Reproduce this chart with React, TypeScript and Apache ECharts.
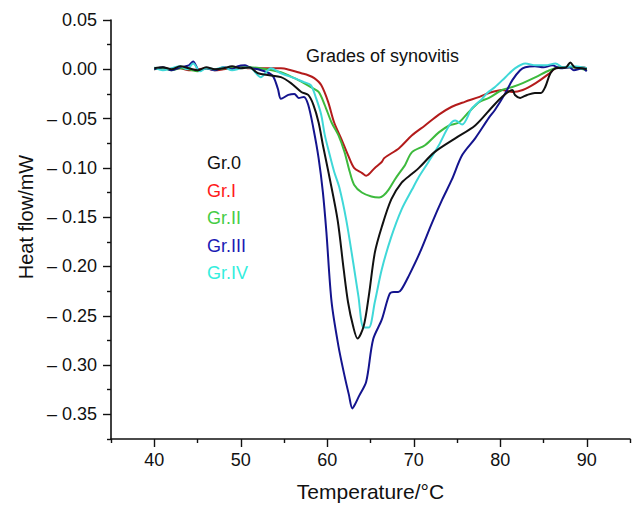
import React, { useEffect, useRef } from "react";
import * as echarts from "echarts";

const seriesNames = ["Gr.0", "Gr.I", "Gr.II", "Gr.III", "Gr.IV"];

const gr0: number[][] = [
  [40, 0.001], [41, 0.002], [42, 0], [43, 0.003], [44, 0.001], [45, -0.001], [46, 0.002], [47, 0],
  [48, 0.001], [49, 0.003], [50, 0.001], [51, 0.002], [52, -0.004], [53.3, -0.006], [54.65, -0.008],
  [55.8, -0.014], [57, -0.023], [57.8, -0.026], [58.4, -0.036], [59, -0.054], [59.5, -0.077],
  [60.2, -0.107], [61.2, -0.153], [61.9, -0.203], [62.4, -0.236], [63, -0.261], [63.5, -0.273],
  [64.2, -0.261], [64.8, -0.23], [65.5, -0.186], [66.3, -0.16], [67.4, -0.132], [68.6, -0.115],
  [69.8, -0.106], [70.6, -0.1], [72.4, -0.084], [74.8, -0.07], [77.1, -0.057], [79.1, -0.038],
  [80.2, -0.028], [81.4, -0.021], [81.7, -0.026], [82.3, -0.029], [83.1, -0.026], [84, -0.024],
  [84.7, -0.024], [85.2, -0.018], [85.8, -0.004], [86.4, 0.001], [87.6, 0.002], [88.1, 0.007],
  [88.6, 0.002], [89.5, 0.001], [90, 0],
];

const gr1: number[][] = [
  [40, 0], [41, 0.001], [42, 0], [43, 0.001], [44, -0.001], [45, 0], [46, 0.001], [47, -0.001],
  [48, 0], [49, 0.001], [50, 0.002], [51, 0.001], [52, 0.001], [53.5, 0.001], [54.65, 0.001],
  [55.8, -0.001], [57, -0.004], [57.8, -0.006], [58.5, -0.009], [59.3, -0.016], [60.1, -0.033],
  [60.8, -0.054], [61.6, -0.07], [62.4, -0.087], [63.1, -0.1], [64, -0.105], [64.5, -0.108],
  [65.5, -0.1], [66.3, -0.094], [66.6, -0.09], [68.3, -0.08], [69.8, -0.067], [71.3, -0.057],
  [72.9, -0.046], [74.4, -0.038], [75.9, -0.033], [77.6, -0.028], [78.7, -0.024], [80.2, -0.021],
  [81.4, -0.023], [82.6, -0.021], [84.1, -0.014], [85.7, -0.004], [86.4, 0.001], [88, 0.002],
  [89.5, 0.002], [90, 0.001],
];

const gr2: number[][] = [
  [40, 0], [41, 0.001], [42, -0.001], [43, 0.001], [44, 0], [45, -0.002], [46, 0.001], [47, 0],
  [48, 0.001], [49, 0.002], [50, 0.002], [51, 0.002], [52.3, 0.001], [54.65, -0.003], [56.2, -0.009],
  [57.3, -0.014], [58.1, -0.018], [59, -0.023], [59.7, -0.036], [60.5, -0.054], [61.3, -0.067],
  [62, -0.084], [62.6, -0.104], [63.1, -0.117], [64, -0.125], [65.1, -0.129], [66, -0.13],
  [66.5, -0.128], [67.1, -0.122], [67.8, -0.112], [68.6, -0.102], [69, -0.097], [69.8, -0.084],
  [71.3, -0.077], [72.9, -0.064], [74.1, -0.057], [75.2, -0.054], [76.4, -0.043], [77.6, -0.033],
  [78.7, -0.029], [80.2, -0.021], [81.4, -0.018], [82.6, -0.014], [84.1, -0.008], [85.7, -0.001],
  [86.9, 0.002], [88.4, 0.002], [90, -0.001],
];

const gr3: number[][] = [
  [40, 0], [41, 0.002], [42, -0.001], [43, 0.002], [44, 0.004], [44.5, 0.008], [45.2, -0.001],
  [46, 0.001], [47, -0.001], [48, 0.002], [49, 0], [49.6, 0.003], [50.5, 0.004], [51.2, 0.001],
  [52, 0], [53.3, -0.004], [53.8, -0.008], [54.3, -0.02], [54.65, -0.03], [55.5, -0.026],
  [56.2, -0.025], [56.7, -0.029], [57.3, -0.028], [57.8, -0.036], [58.4, -0.06], [59, -0.09],
  [59.5, -0.125], [59.9, -0.165], [60.5, -0.236], [61.3, -0.281], [62, -0.311], [62.5, -0.33],
  [62.9, -0.344], [63.2, -0.34], [63.7, -0.331], [64.5, -0.317], [65.3, -0.274], [66.3, -0.254],
  [67.2, -0.228], [67.7, -0.226], [68.2, -0.226], [68.6, -0.223], [69.4, -0.21], [70.7, -0.186],
  [72.1, -0.156], [73.3, -0.132], [74.4, -0.112], [75.6, -0.087], [77.1, -0.07], [78.7, -0.049],
  [79.4, -0.041], [80.6, -0.024], [81.4, -0.011], [82.3, -0.001], [82.9, 0.002], [84, 0.003],
  [85, 0.002], [86, 0.004], [87, 0.001], [88, 0.002], [88.5, -0.001], [89.5, 0.001], [90, -0.002],
];

const gr4: number[][] = [
  [40, 0.002], [41, -0.001], [42, 0.001], [43, 0.003], [43.8, 0], [44.5, 0.006], [45.3, -0.002],
  [46, 0.001], [47, 0], [48, 0.002], [49, -0.001], [50, 0.001], [51, 0.002], [52.3, -0.008],
  [53.5, 0.001], [54.65, -0.004], [56.2, -0.009], [57.3, -0.013], [58.1, -0.016], [58.7, -0.029],
  [59.3, -0.046], [59.7, -0.066], [60.2, -0.084], [60.8, -0.104], [61.4, -0.12], [62.2, -0.153],
  [63, -0.196], [63.6, -0.23], [64.2, -0.262], [64.8, -0.262], [65.5, -0.236], [66.3, -0.203],
  [67.4, -0.17], [68.6, -0.142], [69.8, -0.122], [70.6, -0.109], [71.7, -0.094], [72.9, -0.077],
  [74.1, -0.057], [74.8, -0.052], [75.6, -0.056], [76.7, -0.04], [77.9, -0.03], [78.5, -0.024],
  [79.4, -0.018], [80.6, -0.008], [81.7, 0.001], [82.9, 0.006], [84.1, 0.004], [85.2, 0.004],
  [86.4, 0.006], [87.2, 0.002], [88.4, 0.003], [89.5, 0.002], [90, 0.001],
];

const seriesData = [gr0, gr1, gr2, gr3, gr4];
const lineColors = ["#111111", "#b31b1b", "#3dba3d", "#14148e", "#3fd8d8"];
const legendColors = ["#111111", "#ff1a1a", "#44cc44", "#1a1ab4", "#33eedd"];

const xMajorTicks = [40, 50, 60, 70, 80, 90];
const xMinorTicks = [35, 45, 55, 65, 75, 85, 95];
const yMajorTicks = [0.05, 0, -0.05, -0.1, -0.15, -0.2, -0.25, -0.3, -0.35];
const yMinorTicks = [0.025, -0.025, -0.075, -0.125, -0.175, -0.225, -0.275, -0.325, -0.375];

const FONT = "Liberation Sans, Arial, Helvetica, sans-serif";

function fmtY(v: number): string {
  if (Math.abs(v) < 1e-9) return "0.00";
  if (v > 0) return v.toFixed(2);
  return "\u2013 " + Math.abs(v).toFixed(2);
}

export default function App() {
  const ref = useRef<HTMLDivElement>(null);
  useEffect(() => {
    document.body.style.margin = "0";
    if (!ref.current) return;
    const chart = echarts.init(ref.current, null, { renderer: "svg" });
    const axisLine = { show: true, onZero: false, lineStyle: { color: "#111", width: 1.6 } };
    const tickStyle = { color: "#111", width: 1.4 };
    chart.setOption({
      animation: false,
      backgroundColor: "#ffffff",
      title: {
        text: "Grades of synovitis",
        left: 306,
        top: 47,
        padding: 0,
        textStyle: { fontFamily: FONT, fontSize: 18, fontWeight: "normal", color: "#111" },
      },
      legend: {
        orient: "vertical",
        left: 202,
        top: 154,
        padding: 0,
        icon: "none",
        itemWidth: 0,
        itemHeight: 18,
        itemGap: 9.5,
        selectedMode: false,
        textStyle: { fontFamily: FONT, fontSize: 18, lineHeight: 18 },
        data: seriesNames.map((n, i) => ({ name: n, textStyle: { color: legendColors[i] } })),
      },
      grid: { left: 111, right: 3, top: 20, bottom: 66, containLabel: false },
      xAxis: [
        {
          type: "value",
          min: 35,
          max: 95,
          position: "bottom",
          axisLine,
          splitLine: { show: false },
          axisTick: { show: true, customValues: xMajorTicks, length: 8, lineStyle: tickStyle },
          axisLabel: {
            customValues: xMajorTicks,
            margin: 12,
            fontFamily: FONT,
            fontSize: 18,
            color: "#111",
          },
          name: "Temperature/°C",
          nameLocation: "middle",
          nameGap: 42,
          nameTextStyle: { fontFamily: FONT, fontSize: 21, color: "#111", verticalAlign: "top" },
        },
        {
          type: "value",
          min: 35,
          max: 95,
          position: "bottom",
          axisLine: { show: false, onZero: false },
          splitLine: { show: false },
          axisTick: { show: true, customValues: xMinorTicks, length: 4, lineStyle: tickStyle },
          axisLabel: { show: false },
        },
      ],
      yAxis: [
        {
          type: "value",
          min: -0.375,
          max: 0.05,
          position: "left",
          axisLine,
          splitLine: { show: false },
          axisTick: { show: true, customValues: yMajorTicks, length: 8, lineStyle: tickStyle },
          axisLabel: {
            customValues: yMajorTicks,
            margin: 14,
            fontFamily: FONT,
            fontSize: 18,
            color: "#111",
            formatter: (v: number) => fmtY(v),
          },
        },
        {
          type: "value",
          min: -0.375,
          max: 0.05,
          position: "left",
          axisLine: { show: false, onZero: false },
          splitLine: { show: false },
          axisTick: { show: true, customValues: yMinorTicks, length: 4, lineStyle: tickStyle },
          axisLabel: { show: false },
        },
      ],
      graphic: [
        {
          type: "text",
          x: 26,
          y: 217,
          rotation: Math.PI / 2,
          style: {
            text: "Heat flow/mW",
            fontFamily: FONT,
            fontSize: 20,
            fill: "#111",
            align: "center",
            verticalAlign: "middle",
          },
        },
      ],
      series: seriesNames.map((n, i) => ({
        name: n,
        type: "line",
        data: seriesData[i],
        xAxisIndex: 0,
        yAxisIndex: 0,
        showSymbol: false,
        smooth: 0.3,
        lineStyle: { color: lineColors[i], width: 2 },
        itemStyle: { color: lineColors[i] },
        z: i === 0 ? 6 : 5,
      })),
    });
    return () => chart.dispose();
  }, []);
  return <div ref={ref} style={{ width: 633, height: 507, position: "absolute", left: 0, top: 0 }} />;
}
